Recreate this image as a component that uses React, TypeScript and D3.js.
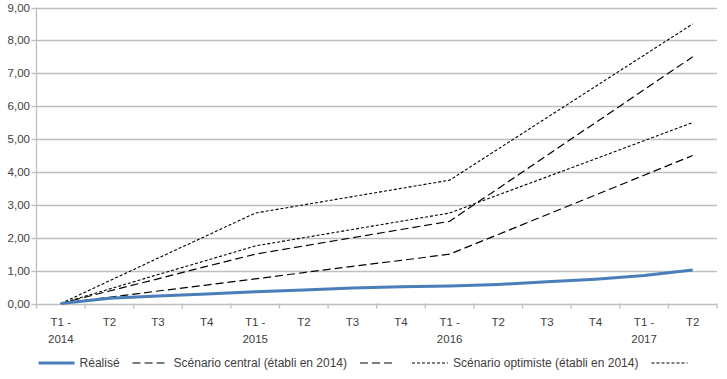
import React, { useEffect, useRef } from "react";
import * as d3 from "d3";

const categories: string[][] = [
  ["T1 -", "2014"], ["T2"], ["T3"], ["T4"],
  ["T1 -", "2015"], ["T2"], ["T3"], ["T4"],
  ["T1 -", "2016"], ["T2"], ["T3"], ["T4"],
  ["T1 -", "2017"], ["T2"],
];

const realise = [0, 0.16, 0.23, 0.29, 0.36, 0.41, 0.47, 0.51, 0.53, 0.58, 0.66, 0.74, 0.85, 1.02];
const centralBas = [0, 0.19, 0.38, 0.56, 0.75, 0.94, 1.13, 1.31, 1.5, 2.1, 2.7, 3.3, 3.9, 4.5];
const centralHaut = [0, 0.38, 0.75, 1.13, 1.5, 1.75, 2.0, 2.25, 2.5, 3.5, 4.5, 5.5, 6.5, 7.5];
const optimisteBas = [0, 0.44, 0.88, 1.31, 1.75, 2.0, 2.25, 2.5, 2.75, 3.3, 3.85, 4.4, 4.95, 5.5];
const optimisteHaut = [0, 0.69, 1.38, 2.06, 2.75, 3.0, 3.25, 3.5, 3.75, 4.7, 5.65, 6.6, 7.55, 8.5];

const yTicks = [0, 1, 2, 3, 4, 5, 6, 7, 8, 9];

const seriesNames = [
  "Réalisé",
  "Scénario central (établi en 2014)",
  "",
  "Scénario optimiste (établi en 2014)",
  "",
];

const W = 727;
const H = 379;
const FONT = "'Liberation Sans', Arial, sans-serif";
const TEXT = "#404040";
const GRID = "#bfbfbf";

export default function App() {
  const ref = useRef<SVGSVGElement | null>(null);

  useEffect(() => {
    const svg = d3.select(ref.current);
    svg.selectAll("*").remove();

    const left = 36.5, right = 717, top = 7.5, bottom = 303.5;
    const x = d3.scaleBand<number>().domain(d3.range(categories.length)).range([left, right]).padding(0);
    const y = d3.scaleLinear().domain([0, 9]).range([bottom, top]);
    const cx = (i: number) => (x(i) as number) + x.bandwidth() / 2;

    // gridlines
    svg.append("g").selectAll("line").data(yTicks.filter((t) => t > 0)).join("line")
      .attr("x1", left).attr("x2", right)
      .attr("y1", (d) => Math.round(y(d)) + 0.5).attr("y2", (d) => Math.round(y(d)) + 0.5)
      .attr("stroke", GRID).attr("stroke-width", 1.3);

    // y axis
    svg.append("line").attr("x1", left).attr("x2", left).attr("y1", top).attr("y2", bottom)
      .attr("stroke", GRID).attr("stroke-width", 1.3);
    svg.append("g").selectAll("line").data(yTicks).join("line")
      .attr("x1", left - 5).attr("x2", left)
      .attr("y1", (d) => Math.round(y(d)) + 0.5).attr("y2", (d) => Math.round(y(d)) + 0.5)
      .attr("stroke", GRID).attr("stroke-width", 1.3);
    svg.append("g").selectAll("text").data(yTicks).join("text")
      .attr("x", 30).attr("y", (d) => y(d) + 4)
      .attr("text-anchor", "end")
      .attr("font-family", FONT).attr("font-size", 11.5).attr("fill", TEXT)
      .text((d) => d3.format(".2f")(d).replace(".", ","));

    // x axis
    svg.append("line").attr("x1", left).attr("x2", right).attr("y1", Math.round(bottom) + 0.5).attr("y2", Math.round(bottom) + 0.5)
      .attr("stroke", GRID).attr("stroke-width", 1.3);
    svg.append("g").selectAll("line").data(d3.range(categories.length + 1)).join("line")
      .attr("x1", (d) => left + d * x.bandwidth()).attr("x2", (d) => left + d * x.bandwidth())
      .attr("y1", bottom).attr("y2", bottom + 5)
      .attr("stroke", GRID).attr("stroke-width", 1.3);
    const xl = svg.append("g").selectAll("text").data(categories).join("text")
      .attr("text-anchor", "middle")
      .attr("font-family", FONT).attr("font-size", 11.5).attr("fill", TEXT);
    xl.each(function (d, i) {
      const t = d3.select(this);
      d.forEach((s, k) => {
        t.append("tspan").attr("x", cx(i)).attr("y", 326 + k * 17).text(s);
      });
    });

    const line = d3.line<number>().x((_, i) => cx(i)).y((d) => y(d));

    const styles = [
      { data: centralBas, stroke: "#000", width: 1.2, dash: "8,4" },
      { data: centralHaut, stroke: "#000", width: 1.2, dash: "8,4" },
      { data: optimisteBas, stroke: "#000", width: 1.1, dash: "3,2" },
      { data: optimisteHaut, stroke: "#000", width: 1.1, dash: "3,2" },
      { data: realise, stroke: "#4a7ebb", width: 3, dash: null as string | null },
    ];
    styles.forEach((s) => {
      svg.append("path").datum(s.data).attr("d", line)
        .attr("fill", "none").attr("stroke", s.stroke).attr("stroke-width", s.width)
        .attr("stroke-dasharray", s.dash).attr("stroke-linejoin", "round");
    });

    // legend
    const legendStyles = [
      { stroke: "#4a7ebb", width: 3, dash: null as string | null },
      { stroke: "#000", width: 1.2, dash: "8,4" },
      { stroke: "#000", width: 1.2, dash: "8,4" },
      { stroke: "#000", width: 1.1, dash: "3,2" },
      { stroke: "#000", width: 1.1, dash: "3,2" },
    ];
    const lg = svg.append("g");
    const ly = 363;
    let cur = 0;
    seriesNames.forEach((name, i) => {
      const st = legendStyles[i];
      lg.append("line").attr("x1", cur).attr("x2", cur + 36).attr("y1", ly).attr("y2", ly)
        .attr("stroke", st.stroke).attr("stroke-width", st.width).attr("stroke-dasharray", st.dash);
      cur += 36;
      if (name) {
        const t = lg.append("text").attr("x", cur + 5).attr("y", ly + 4)
          .attr("font-family", FONT).attr("font-size", 12).attr("fill", TEXT).text(name);
        const w = (t.node() as SVGTextElement).getComputedTextLength();
        cur += 5 + w + 13;
      } else {
        cur += 16;
      }
    });
    const total = cur - 16;
    lg.attr("transform", `translate(${363 - total / 2},0)`);
  }, []);

  return (
    <svg ref={ref} width={W} height={H} style={{ display: "block", position: "absolute", left: 0, top: 0, background: "#fff" }} />
  );
}
